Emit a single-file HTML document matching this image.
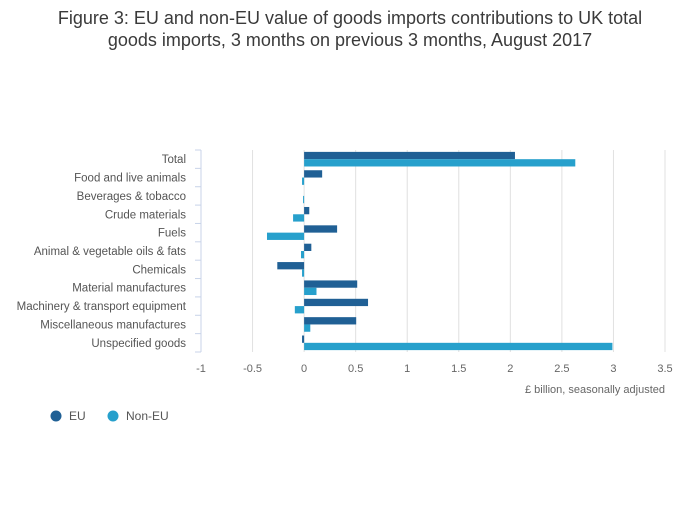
<!DOCTYPE html>
<html><head><meta charset="utf-8"><style>
body{margin:0;background:#fff;font-family:"Liberation Sans",sans-serif;}
</style></head><body>
<svg width="700" height="502" xmlns="http://www.w3.org/2000/svg" id="svg" font-family="Liberation Sans, sans-serif">
<text x="350" y="24" text-anchor="middle" font-size="18" fill="#3a3a3a">Figure 3: EU and non-EU value of goods imports contributions to UK total</text>
<text x="350" y="46" text-anchor="middle" font-size="18" fill="#3a3a3a">goods imports, 3 months on previous 3 months, August 2017</text>
<g id="grid"></g><g id="bars"></g><g id="axes"></g>
<text x="665" y="393" text-anchor="end" font-size="11" fill="#666">£ billion, seasonally adjusted</text>
<circle cx="56" cy="416" r="5.5" fill="#206095"/>
<text x="69" y="420" font-size="12" fill="#555">EU</text>
<circle cx="113" cy="416" r="5.5" fill="#27a0cc"/>
<text x="126" y="420" font-size="12" fill="#555">Non-EU</text>
</svg>
<script>
const categories=["Total","Food and live animals","Beverages & tobacco","Crude materials","Fuels","Animal & vegetable oils & fats","Chemicals","Material manufactures","Machinery & transport equipment","Miscellaneous manufactures","Unspecified goods"];
const euValues=[2.045,0.175,0,0.05,0.32,0.07,-0.26,0.515,0.62,0.505,-0.02];
const nonEuValues=[2.63,-0.02,-0.01,-0.107,-0.36,-0.03,-0.02,0.12,-0.09,0.06,2.99];
const xTicks=[-1,-0.5,0,0.5,1,1.5,2,2.5,3,3.5];
const NS="http://www.w3.org/2000/svg";
const x0=201,x1=665,vmin=-1,vmax=3.5,plotTop=150,plotBot=352;
const xs=v=>x0+(v-vmin)/(vmax-vmin)*(x1-x0);
const rowH=(plotBot-plotTop)/categories.length;
function mk(t,a,p){const e=document.createElementNS(NS,t);for(const k in a)e.setAttribute(k,a[k]);p.appendChild(e);return e;}
const grid=document.getElementById('grid'),bars=document.getElementById('bars'),axes=document.getElementById('axes');
xTicks.forEach(t=>{
  if(t!==vmin){const l=mk('line',{x1:xs(t),x2:xs(t),y1:plotTop,y2:plotBot,stroke:'#e0e0e0','stroke-width':1},grid);
  
  }
  const tx=mk('text',{x:xs(t),y:372,'text-anchor':'middle','font-size':11,fill:'#666'},axes);
  tx.textContent=String(t);
  
  
});
const ax=mk('line',{x1:x0,x2:x0,y1:plotTop,y2:plotBot,stroke:'#c8d3e8','stroke-width':1},axes);


const bh=7.3;
categories.forEach((c,i)=>{
  const yt=plotTop+i*rowH;
  const tk=mk('line',{x1:x0-6,x2:x0,y1:yt+rowH,y2:yt+rowH,stroke:'#c8d3e8'},axes);
  
  
  if(i===0){const t0=mk('line',{x1:x0-6,x2:x0,y1:yt,y2:yt,stroke:'#c8d3e8'},axes);
  
  }
  const lb=mk('text',{x:186,y:yt+rowH/2+4,'text-anchor':'end','font-size':11.5,fill:'#555'},axes);
  lb.textContent=c;
  
  
  const gy=yt+(rowH-2*bh)/2;
  [[euValues[i],'#206095','bar-eu'],[nonEuValues[i],'#27a0cc','bar-non-eu']].forEach(([v,col,n],j)=>{
    const a=xs(Math.min(0,v)),b=xs(Math.max(0,v));
    const r=mk('rect',{x:a,y:gy+j*bh,width:Math.max(b-a,v===0?0:1),height:bh,fill:col},bars);
    
    
  });
});
</script>
</body></html>
